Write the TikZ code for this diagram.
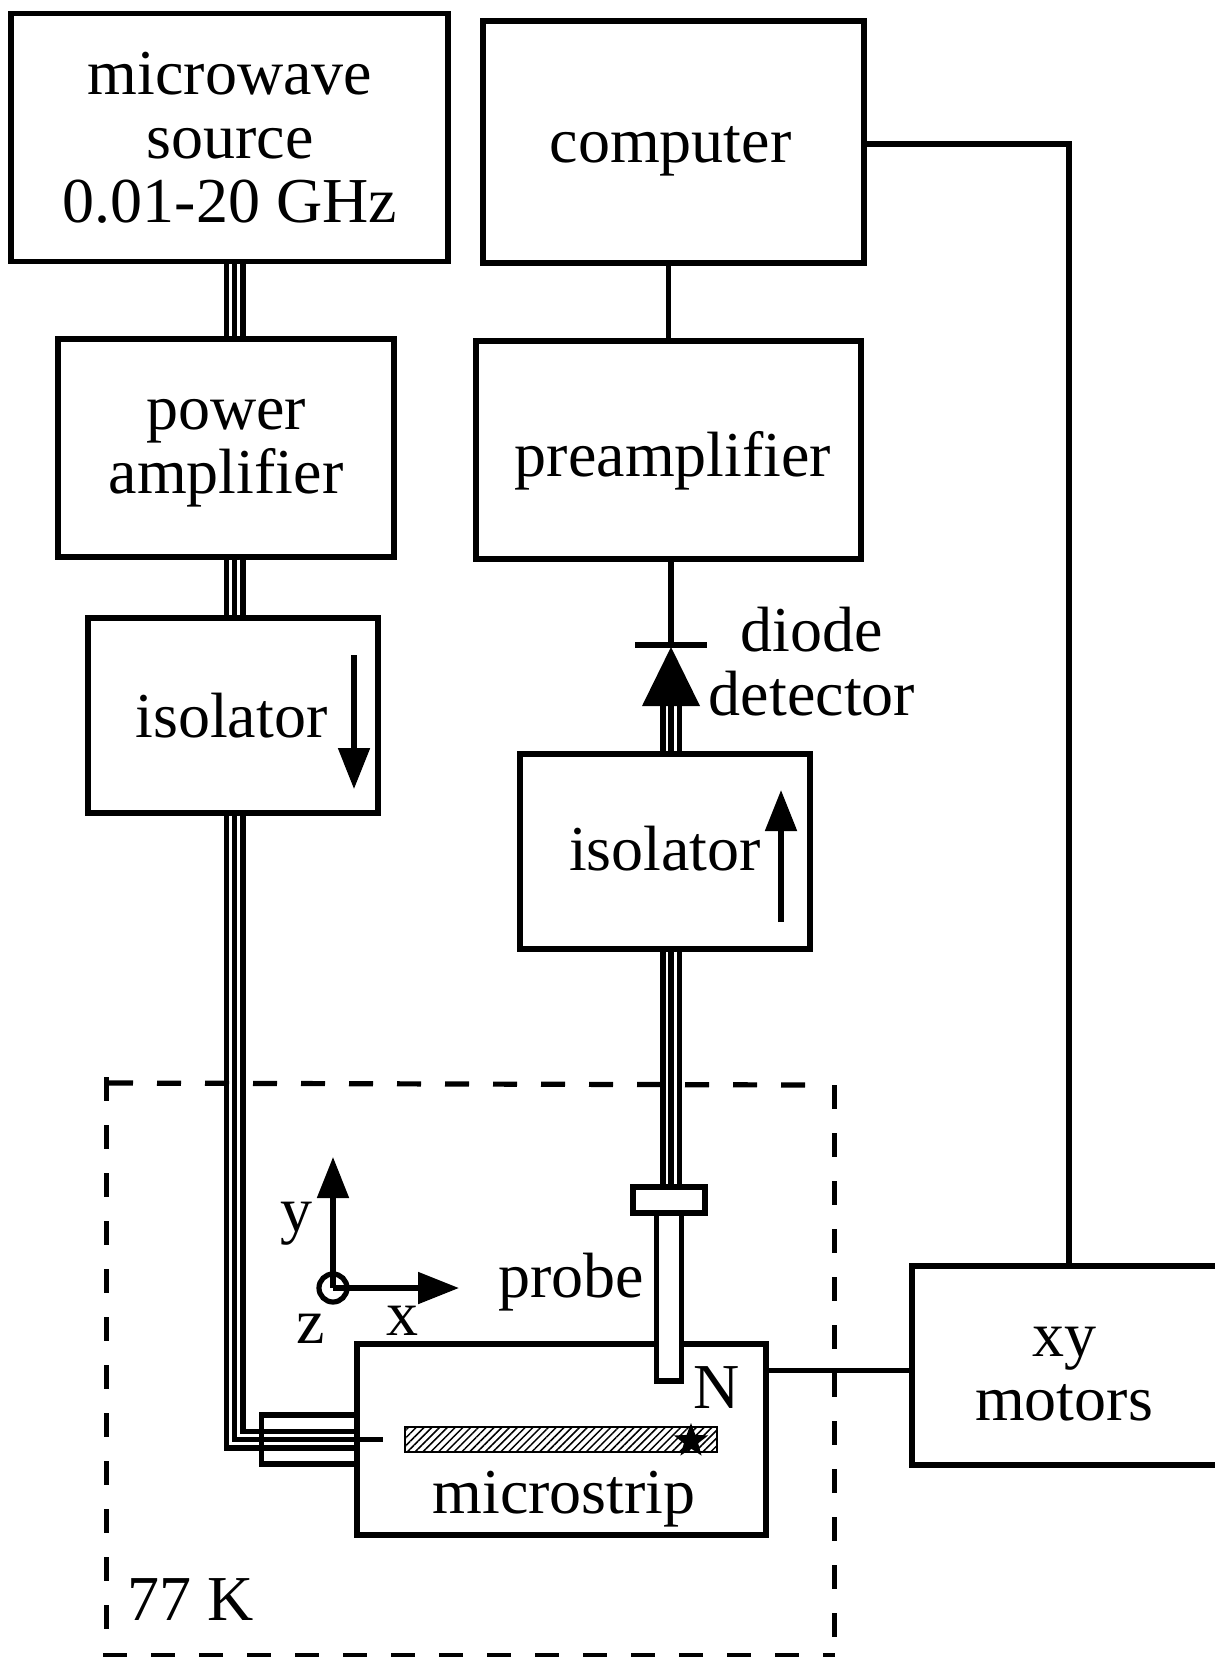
\documentclass[tikz,border=0pt]{standalone}
\usepackage{fontspec}
\setmainfont{Liberation Serif}
\usepackage{tikz}
\usetikzlibrary{arrows.meta,calc,shapes.geometric,patterns.meta}
\newcommand{\lbl}{\fontsize{64}{64}\selectfont}
\tikzstyle{wire} = [line width=5.2pt]
\tikzstyle{block} = [draw, line width=5.2pt, inner sep=0pt]
\tikzstyle{lab} = [inner sep=0pt, align=center, font=\lbl]
\tikzstyle{rfline} = [line width=22pt, postaction={draw,white,line width=11pt}, postaction={draw,black,line width=5.5pt}]
\tikzstyle{bigarrow} = [line width=5.2pt, -{Triangle[length=41pt,width=31pt]}]
\tikzstyle{cold} = [line width=5.2pt, dash pattern=on 24pt off 24pt]
\begin{document}
\begin{tikzpicture}[x=1pt,y=-1pt]
\useasboundingbox (0,0) rectangle (1215,1657);
%boxes
 \node[block, minimum width=437pt, minimum height=248pt] (source) at (229.5,137.5) {};
 \node[block, minimum width=381pt, minimum height=242pt] (computer) at (673.5,142) {};
 \node[block, minimum width=336pt, minimum height=218pt] (amp) at (226,448) {};
 \node[block, minimum width=385pt, minimum height=218pt] (preamp) at (668.5,450) {};
 \node[block, minimum width=290pt, minimum height=195pt] (isoL) at (233,715.5) {};
 \node[block, minimum width=290pt, minimum height=195pt] (isoR) at (665,851.5) {};
 \node[block, minimum width=306pt, minimum height=199pt] (motors) at (1065,1365.5) {};
 \coordinate (rfL) at (234.5,0);
 \coordinate (rfR) at (671,0);
 \coordinate (dio) at (671,645);
 \coordinate (diobase) at (671,706);
 \coordinate (connend) at (357,1439.5);
%rf lines
 \draw[rfline] (rfL |- source.south) -- (rfL |- amp.north);
 \draw[rfline] (rfL |- amp.south) -- (rfL |- isoL.north);
 \draw[rfline] (rfL |- isoL.south) |- (connend);
 \draw[wire] (connend) -- ++(26,0) coordinate (feedend);
 \draw[rfline] (diobase) -- (rfR |- isoR.north);
%sample box
 \node[block, minimum width=409pt, minimum height=191pt] (micro) at (561.5,1439.5) {};
 \node[block, minimum width=95pt, minimum height=49pt] (conn) at (309,1439.5) {};
 \node[draw, line width=1.5pt, inner sep=0pt, minimum width=312pt, minimum height=25pt,
   pattern={Lines[angle=45,distance=5.5pt,line width=1.5pt]}] (strip) at (561,1439.5) {};
 \node[star, star points=5, star point ratio=2.4, fill=black, inner sep=0pt, minimum size=36pt] (tip) at (691,1441) {};
%probe
 \node[block, fill=white, minimum width=25pt, minimum height=169pt] (tube) at (669,1296.5) {};
 \node[block, fill=white, minimum width=72pt, minimum height=26pt] (flange) at (669,1200) {};
 \draw[rfline] (rfR |- isoR.south) -- (rfR |- flange.north);
%texts
 \node[lab] (sourcelab) at (230,137.5) {microwave\\source\\0.01-20 GHz};
 \node[lab] (computerlab) at (670.5,151) {computer};
 \node[lab] (amplab) at (226,453) {power\\amplifier};
 \node[lab] (preamplab) at (673,461) {preamplifier};
 \node[lab] (isoLlab) at (231.5,716) {isolator};
 \node[lab] (isoRlab) at (665,848.5) {isolator};
 \node[lab] (motorslab) at (1064,1374.5) {xy\\motors};
 \node[lab] (diodelab) at (812,662) {diode\\detector};
 \node[lab] (probelab) at (571.5,1282) {probe};
 \node[lab] (northlab) at (716.5,1388) {N};
 \node[lab] (striplab) at (564,1499) {microstrip};
 \node[lab] (templab) at (190.5,1600) {77 K};
 \node[lab] (ylab) at (296,1224) {y};
 \node[lab] (xlab) at (402,1321) {x};
 \node[lab] (zlab) at (311,1329) {z};
%diode
 \draw[wire] (dio |- preamp.south) -- (dio);
 \draw[wire] ([xshift=-36pt]dio) -- ([xshift=36pt]dio);
 \fill ([yshift=-2pt]dio) -- ([xshift=-29pt]diobase) -- ([xshift=29pt]diobase) -- cycle;
%control lines
 \draw[wire] (computer.south -| preamp.north) -- (preamp.north);
 \draw[wire] ([yshift=-2pt]computer.east) -| ([xshift=4pt]motors.north);
 \draw[wire] ([yshift=-5pt]motors.west) -- ([yshift=-5pt]motors.west -| micro.east);
%arrows
 \coordinate (arrL) at (354,655);
 \coordinate (arrR) at (781,922);
 \draw[bigarrow] (arrL) -- (354,789);
 \draw[bigarrow] (arrR) -- (781,790);
 \coordinate (origin) at (333,1288);
 \draw[bigarrow] (origin) -- (333,1157);
 \draw[bigarrow] (origin) -- (459,1288);
 \draw[wire] (origin) circle (14pt);
%77 K region
 \draw[cold] (109,1083) -- (805,1085);
 \draw[cold] (834.5,1085) -- (834.5,1657);
 \draw[cold] (106.5,1077) -- (106.5,1657);
 \draw[cold] (103,1656) -- (835,1656);
\end{tikzpicture}
\end{document}
